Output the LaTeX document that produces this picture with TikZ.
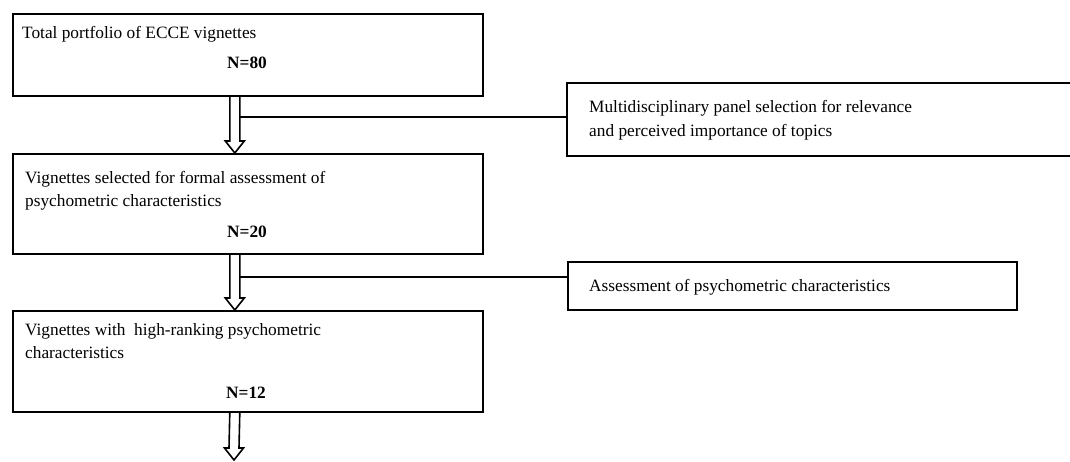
\documentclass[tikz,border=0pt]{standalone}
\usepackage{fontspec}
\setmainfont{Liberation Serif}
\usetikzlibrary{calc}
\tikzset{
  box/.style={draw, line width=1.6pt, inner sep=0pt, anchor=north west},
  txt/.style={inner sep=0pt, anchor=base west, font=\fontsize{17.3pt}{20pt}\selectfont},
  num/.style={inner sep=0pt, anchor=base, font=\fontsize{17.3pt}{20pt}\selectfont\bfseries},
  conn/.style={line width=1.6pt, line join=miter},
}
\newcommand{\blkarrow}[2]{%
  \draw[conn] ($(#1)+(-5,0)$) -- ($(#2)+(-5,12)$) -- ($(#2)+(-9.5,12)$) -- (#2)
    -- ($(#2)+(9.5,12)$) -- ($(#2)+(5,12)$) -- ($(#1)+(5,0)$);}
\begin{document}
\begin{tikzpicture}[x=1pt,y=1pt]
\useasboundingbox (0,0) rectangle (1070,-461);
% main boxes
\node[box, minimum width=470pt, minimum height=82pt] (b1) at (12,-13) {};
\node[box, minimum width=470pt, minimum height=100pt] (b2) at (12,-153) {};
\node[box, minimum width=470pt, minimum height=101pt] (b3) at (12,-310) {};
% side boxes
\node[box, minimum width=520pt, minimum height=73pt] (s1) at (566,-82) {};
\node[box, minimum width=449pt, minimum height=48pt] (s2) at (567,-261) {};
% texts
\node[txt] (t1) at (22,-38) {Total portfolio of ECCE vignettes};
\node[num] (n1) at (247,-68) {N=80};
\node[txt] (t2a) at (25,-183) {Vignettes selected for formal assessment of};
\node[txt] (t2b) at (25,-206) {psychometric characteristics};
\node[num] (n2) at (247,-237) {N=20};
\node[txt] (t3a) at (25,-335) {Vignettes with\ \ high-ranking psychometric};
\node[txt] (t3b) at (25,-358) {characteristics};
\node[num] (n3) at (246,-398) {N=12};
\node[txt] (ts1a) at (589,-112) {Multidisciplinary panel selection for relevance};
\node[txt] (ts1b) at (589,-136) {and perceived importance of topics};
\node[txt] (ts2) at (589,-291) {Assessment of psychometric characteristics};
% arrows
\coordinate (a1s) at ($(b1.south)+(-13,0)$);
\coordinate (a1t) at ($(b2.north)+(-13,0)$);
\coordinate (a2s) at ($(b2.south)+(-13,0)$);
\coordinate (a2t) at ($(b3.north)+(-13,0)$);
\coordinate (a3s) at ($(b3.south)+(-13,0)$);
\coordinate (a3t) at (234,-460);
\blkarrow{a1s}{a1t}
\blkarrow{a2s}{a2t}
\blkarrow{a3s}{a3t}
% branches
\coordinate (br1) at (239,-117);
\coordinate (br2) at (239,-277);
\draw[conn] (br1) -- (br1 -| s1.west);
\draw[conn] (br2) -- (br2 -| s2.west);
\end{tikzpicture}
\end{document}
